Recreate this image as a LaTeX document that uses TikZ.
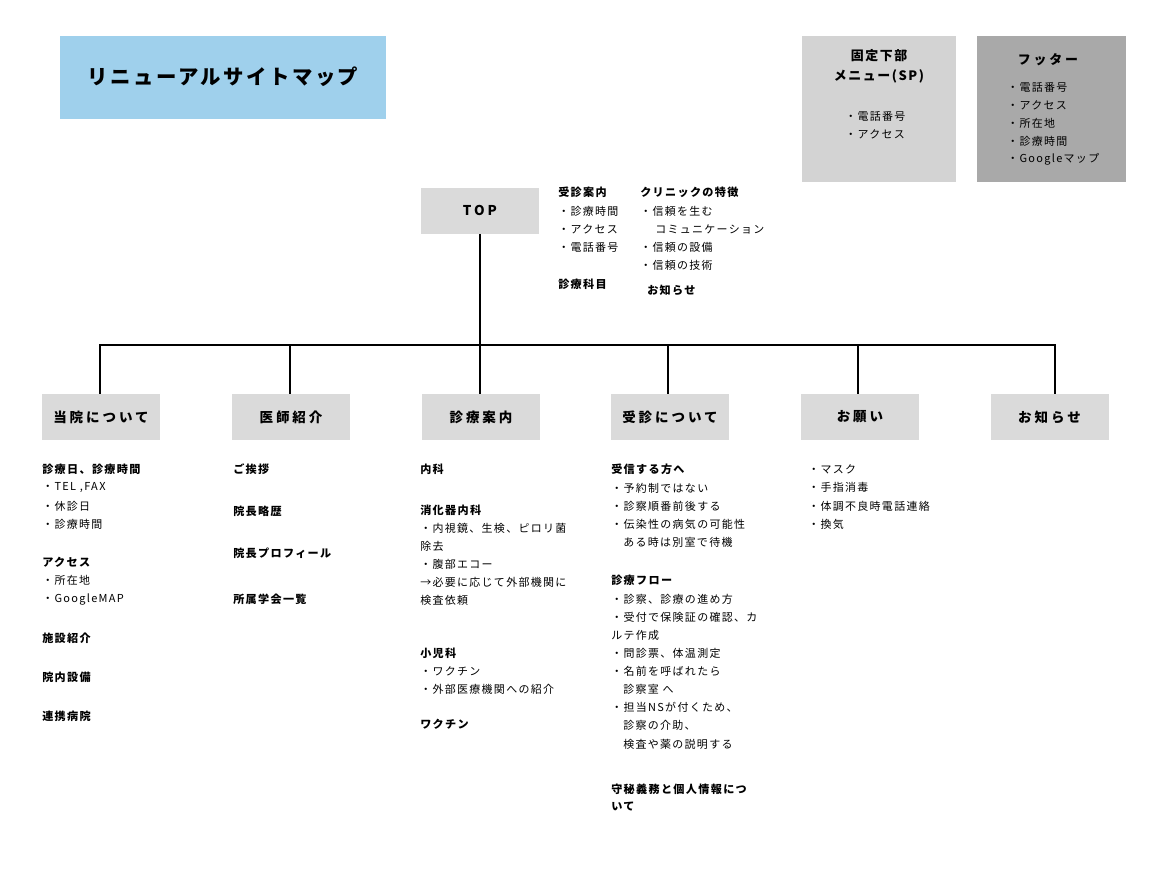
\documentclass[tikz,border=0pt]{standalone}
\usepackage{fontspec}
\setmainfont{Noto Sans CJK JP}[LetterSpace=12]
\newfontfamily\widefont{Noto Sans CJK JP}[LetterSpace=22]
\usetikzlibrary{positioning}
\definecolor{titleblue}{HTML}{9FD0EC}
\definecolor{boxgray}{HTML}{DADADA}
\definecolor{subgray}{HTML}{D3D3D3}
\definecolor{darkgray}{HTML}{A9A9A9}
\tikzset{
  page box/.style={fill=boxgray, minimum width=118*0.025cm, minimum height=46*0.025cm,
    font=\widefont\fontsize{9.6}{12}\selectfont\bfseries, inner sep=0pt},
  txt/.style={anchor=west, inner sep=0pt, font=\fontsize{7.8}{9}\selectfont},
  head/.style={txt, font=\fontsize{7.9}{9}\selectfont\bfseries},
  link/.style={line width=1.4pt, black}
}
\begin{document}
\begin{tikzpicture}[x=0.025cm, y=-0.025cm]
\useasboundingbox (0,0) rectangle (1160,870);

% ---------- HEADER ----------
\fill[titleblue] (60,36) rectangle (386,119);
\node[font=\fontsize{14.5}{16}\selectfont\bfseries] (title) at (223,77) {リニューアルサイトマップ};

\fill[subgray] (802,36) rectangle (956,182);
\node[font=\fontsize{9.2}{14.5}\selectfont\bfseries, align=center] (fixed) at (879,66) {固定下部\\メニュー(SP)};
\node[txt] (fixedA) at (845,116) {・電話番号};
\node[txt] (fixedB) at (845,134) {・アクセス};

\fill[darkgray] (977,36) rectangle (1126,182);
\node[font=\widefont\fontsize{9.2}{11}\selectfont\bfseries] (footer) at (1048,60) {フッター};
\foreach \t [count=\i] in {電話番号,アクセス,所在地,診療時間,Googleマップ}
  \node[txt] (foot\i) at (1007,69+18*\i) {・\t};

% ---------- TOP ----------
\node[page box] (top) at (480,210.5) {TOP};
\node[head] (topA) at (558,192) {受診案内};
\node[txt] at (558,211) {・診療時間};
\node[txt] at (558,229) {・アクセス};
\node[txt] at (558,247) {・電話番号};
\node[head] (topB) at (558,284) {診療科目};
\node[head] (topC) at (640,192) {クリニックの特徴};
\node[txt] at (640,211) {・信頼を生む};
\node[txt] at (655,229) {コミュニケーション};
\node[txt] at (640,247) {・信頼の設備};
\node[txt] at (640,265) {・信頼の技術};
\node[head] (topD) at (647,290) {お知らせ};

% ---------- SECOND LEVEL ----------
\node[page box] (about)  at (101,417) {当院について};
\node[page box] (doctor) at (291,417) {医師紹介};
\node[page box] (guide)  at (481,417) {診療案内};
\node[page box] (visit)  at (670,417) {受診について};
\node[page box] (ask)    at (860,417) {お願い};
\node[page box] (news)   at (1049.5,417) {お知らせ};

% Tree lines
\coordinate (hub) at (480,345);
\draw[link] (top.south) -- (hub);
\draw[link] (about.north -| 100,0) -- (100,345) -- (1055,345) -- (news.north -| 1055,0);
\foreach \n/\x in {doctor/290, guide/480, visit/668, ask/858}
  \draw[link] (\x,345) -- (\n.north -| \x,0);

% ---------- COLUMN 1 ----------
\node[head] at (42,469) {診療日、診療時間};
\node[txt] at (42,488) {・TEL ,FAX};
\node[txt] at (42,506) {・休診日};
\node[txt] at (42,524) {・診療時間};
\node[head] at (42,562) {アクセス};
\node[txt] at (42,580) {・所在地};
\node[txt] at (42,599) {・GoogleMAP};
\node[head] at (42,638) {施設紹介};
\node[head] at (42,677) {院内設備};
\node[head] at (42,716) {連携病院};

% ---------- COLUMN 2 ----------
\node[head] at (233,469) {ご挨拶};
\node[head] at (233,511) {院長略歴};
\node[head] at (233,553) {院長プロフィール};
\node[head] at (233,599) {所属学会一覧};

% ---------- COLUMN 3 ----------
\node[head] at (420,469) {内科};
\node[head] at (420,510) {消化器内科};
\node[txt] at (420,528) {・内視鏡、生検、ピロリ菌};
\node[txt] at (420,546) {除去};
\node[txt] at (420,564) {・腹部エコー};
\node[txt] at (420,582) {→必要に応じて外部機関に};
\node[txt] at (420,600) {検査依頼};
\node[head] at (420,653) {小児科};
\node[txt] at (420,671) {・ワクチン};
\node[txt] at (420,689) {・外部医療機関への紹介};
\node[head] at (420,724) {ワクチン};

% ---------- COLUMN 4 ----------
\node[head] at (611,469) {受信する方へ};
\node[txt] at (611,488) {・予約制ではない};
\node[txt] at (611,506) {・診察順番前後する};
\node[txt] at (611,524) {・伝染性の病気の可能性};
\node[txt] at (623,542) {ある時は別室で待機};
\node[head] at (611,580) {診療フロー};
\node[txt] at (611,599) {・診察、診療の進め方};
\node[txt] at (611,617) {・受付で保険証の確認、カ};
\node[txt] at (611,635) {ルテ作成};
\node[txt] at (611,653) {・問診票、体温測定};
\node[txt] at (611,671) {・名前を呼ばれたら};
\node[txt] at (623,689) {診察室 へ};
\node[txt] at (611,707) {・担当NSが付くため、};
\node[txt] at (623,725) {診察の介助、};
\node[txt] at (623,744) {検査や薬の説明する};
\node[head] at (611,789) {守秘義務と個人情報につ};
\node[head] at (611,807) {いて};

% ---------- COLUMN 5 ----------
\node[txt] at (808,469) {・マスク};
\node[txt] at (808,487) {・手指消毒};
\node[txt] at (808,506) {・体調不良時電話連絡};
\node[txt] at (808,524) {・換気};

\end{tikzpicture}
\end{document}
